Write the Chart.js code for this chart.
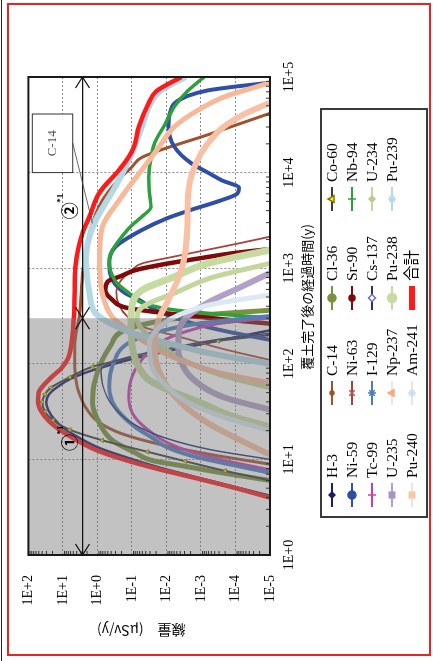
<!DOCTYPE html>
<html>
<head>
<meta charset="utf-8">
<script src="https://cdn.jsdelivr.net/npm/chart.js@4.4.1/dist/chart.umd.min.js"></script>
<style>
  html, body { margin: 0; padding: 0; background: #fff; overflow: hidden; width: 433px; height: 661px; }
  #edge { position: absolute; left: 1px; top: 0; width: 1px; height: 661px; background: #222; }
  #frame { position: absolute; left: 7px; top: 3px; width: 420px; height: 649px; border: 2px solid #e42526; }
  #wrap { position: absolute; left: 0; top: 0; width: 661px; height: 433px;
          transform-origin: 0 0; transform: translateY(661px) rotate(-90deg); }
</style>
</head>
<body>
<div id="edge"></div>
<div id="frame"></div>
<div id="wrap"><canvas id="doseChart" width="661" height="433"></canvas></div>
<script>
// each curve: [log10(years after cover), log10(dose uSv/y)]
const h3 = [[0.62,-5],[0.72,-3.9],[0.82,-2.8],[0.92,-1.75],[1.02,-0.85],[1.12,-0.05],[1.22,0.5],[1.32,0.95],[1.42,1.25],[1.52,1.43],[1.6,1.48],[1.68,1.4],[1.76,1.15],[1.84,0.8],[1.9,0.4],[1.97,-0.2],[2.05,-1.0],[2.13,-2.0],[2.22,-3.2],[2.3,-4.3],[2.35,-5]];
const c14 = [[0.95,-5],[1.05,-3.3],[1.15,-1.9],[1.27,-0.7],[1.4,0.0],[1.55,0.35],[1.75,0.58],[1.97,0.66],[2.2,0.66],[2.53,0.51],[2.95,0.43],[3.37,0.23],[3.71,-0.14],[3.9,-0.55],[4.06,-1.0],[4.16,-1.29],[4.39,-3.15],[4.62,-5]];
const cl36 = [[0.78,-5],[0.86,-3.6],[0.93,-2.5],[0.99,-1.57],[1.07,-1.09],[1.2,-0.43],[1.38,-0.06],[1.59,0.14],[1.8,0.09],[2.04,-0.14],[2.2,-0.4],[2.32,-0.63],[2.4,-1.2],[2.47,-2.2],[2.52,-3.4],[2.56,-5]];
const co60 = [[0.78,-5],[0.88,-3.7],[0.98,-2.55],[1.08,-1.45],[1.2,-0.14],[1.31,0.8],[1.41,1.29],[1.5,1.52],[1.6,1.6],[1.68,1.52],[1.75,1.35],[1.86,0.8],[1.97,0.14],[2.02,-0.43],[2.1,-1.5],[2.18,-2.6],[2.24,-3.5],[2.3,-5]];
const ni59 = [[2.25,-5],[2.35,-3.6],[2.45,-2.5],[2.55,-1.75],[2.67,-1.2],[2.74,-0.8],[2.88,-0.43],[3.05,-0.34],[3.22,-0.51],[3.4,-1.29],[3.52,-2.0],[3.61,-2.71],[3.7,-3.5],[3.78,-4.05],[3.84,-4.1],[3.92,-3.6],[4.0,-3.2],[4.1,-2.71],[4.27,-2.23],[4.48,-2.06],[4.62,-2.1],[4.73,-2.25],[4.8,-2.6],[4.86,-3.2],[4.9,-4.0],[4.94,-5]];
const ni63 = [[2.04,-5],[2.15,-3.7],[2.27,-2.5],[2.39,-1.29],[2.5,-0.85],[2.62,-0.62],[2.75,-0.55],[2.88,-0.7],[2.98,-1.0],[3.05,-1.29],[3.12,-2.2],[3.19,-3.15],[3.26,-4.1],[3.33,-5]];
const sr90 = [[2.42,-5],[2.47,-3.5],[2.52,-2.2],[2.56,-1.3],[2.59,-0.8],[2.67,-0.43],[2.77,-0.23],[2.86,-0.3],[2.92,-0.7],[2.98,-1.1],[3.04,-1.9],[3.1,-2.9],[3.16,-4.0],[3.2,-5]];
const nb94 = [[2.48,-5],[2.52,-3.5],[2.56,-2.3],[2.63,-1.36],[2.72,-0.99],[2.85,-0.55],[2.97,-0.38],[3.09,-0.34],[3.2,-0.45],[3.35,-0.75],[3.45,-1.0],[3.54,-1.29],[3.64,-1.55],[3.74,-1.52],[3.95,-1.49],[4.15,-1.55],[4.31,-1.66],[4.5,-1.95],[4.69,-2.23],[4.85,-2.6],[5.0,-3.09]];
const tc99 = [[0.89,-5],[0.98,-3.8],[1.08,-2.7],[1.18,-2.0],[1.28,-1.57],[1.44,-1.09],[1.65,-0.91],[1.86,-1.0],[2.05,-1.3],[2.22,-1.8],[2.33,-2.5],[2.42,-3.5],[2.48,-5]];
const i129 = [[0.86,-5],[0.95,-3.8],[1.04,-2.7],[1.13,-2.0],[1.23,-1.57],[1.34,-1.09],[1.55,-0.51],[1.76,-0.34],[1.97,-0.43],[2.22,-0.91],[2.33,-1.7],[2.42,-2.9],[2.5,-5]];
const cs137 = [[1.0,-5],[1.1,-3.3],[1.22,-2.0],[1.38,-1.0],[1.58,-0.4],[1.78,-0.15],[1.93,-0.1],[2.0,-0.3],[2.08,-1.0],[2.17,-2.2],[2.25,-3.4],[2.32,-5]];
const u234 = [[1.75,-5],[1.88,-3.6],[2.02,-2.6],[2.17,-1.9],[2.32,-1.4],[2.46,-1.15],[2.59,-1.29],[2.75,-2.3],[2.9,-3.3],[3.05,-5]];
const u235 = [[1.52,-5],[1.65,-3.66],[1.86,-2.71],[2.0,-2.45],[2.14,-2.34],[2.3,-2.35],[2.46,-2.51],[2.64,-3.2],[2.8,-4.14],[2.95,-5]];
const np237 = [[1.8,-5],[1.9,-3.6],[2.0,-2.7],[2.1,-2.0],[2.2,-1.5],[2.35,-0.9],[2.49,-0.43],[2.74,-0.14],[3.09,-0.06],[3.43,-0.14],[3.71,-0.63],[4.03,-1.29],[4.25,-1.75],[4.48,-2.23],[4.65,-2.9],[4.79,-3.66],[4.94,-5]];
const pu238 = [[1.34,-5],[1.45,-3.9],[1.59,-3.0],[1.72,-2.1],[1.83,-1.5],[2.0,-1.15],[2.2,-1.0],[2.45,-0.97],[2.6,-1.0],[2.77,-1.29],[2.91,-2.23],[3.05,-3.2],[3.19,-5]];
const pu239 = [[2.0,-5],[2.1,-3.4],[2.2,-2.2],[2.3,-1.2],[2.4,-0.5],[2.53,0.06],[2.74,0.23],[3.09,0.34],[3.43,0.14],[3.85,-0.51],[4.13,-0.91],[4.48,-1.29],[4.73,-1.55],[4.85,-1.8],[5.0,-2.55]];
const pu240 = [[1.05,-5],[1.2,-4.14],[1.38,-3.2],[1.59,-2.43],[1.86,-1.86],[2.14,-1.66],[2.46,-1.77],[2.67,-2.06],[2.9,-2.35],[3.09,-2.51],[3.4,-2.6],[3.79,-2.63],[4.0,-2.75],[4.2,-3.0],[4.35,-3.3],[4.48,-3.66],[4.62,-4.3],[4.73,-5]];
const am241 = [[1.3,-5],[1.45,-3.6],[1.6,-2.6],[1.8,-1.9],[2.0,-1.55],[2.2,-1.5],[2.35,-1.7],[2.5,-2.3],[2.62,-3.3],[2.72,-5]];
const total = [[0.6,-5],[0.7,-4.0],[0.8,-2.9],[0.9,-1.75],[1.0,-0.75],[1.1,0.05],[1.2,0.6],[1.3,1.05],[1.4,1.4],[1.5,1.62],[1.6,1.72],[1.7,1.7],[1.78,1.55],[1.87,1.3],[1.95,1.05],[2.05,0.86],[2.15,0.78],[2.3,0.72],[2.5,0.68],[2.8,0.66],[3.0,0.64],[3.2,0.56],[3.37,0.43],[3.55,0.22],[3.79,-0.06],[4.03,-0.63],[4.15,-0.88],[4.27,-1.06],[4.48,-1.2],[4.73,-1.49],[4.85,-1.7],[5.0,-2.43]];

const seriesNames = ['H-3', 'C-14', 'Cl-36', 'Co-60', 'Ni-59', 'Ni-63', 'Sr-90', 'Nb-94', 'Tc-99', 'I-129',
  'Cs-137', 'U-234', 'U-235', 'Np-237', 'Pu-238', 'Pu-239', 'Pu-240', 'Am-241', '合計'];
const seriesData = [h3, c14, cl36, co60, ni59, ni63, sr90, nb94, tc99, i129,
  cs137, u234, u235, np237, pu238, pu239, pu240, am241, total];

const xTickValues = [1, 10, 100, 1000, 10000, 100000];
const xTickLabels = ['1E+0', '1E+1', '1E+2', '1E+3', '1E+4', '1E+5'];
const yTickValues = [1e-5, 1e-4, 1e-3, 1e-2, 1e-1, 1, 10, 100];
const yTickLabels = ['1E-5', '1E-4', '1E-3', '1E-2', '1E-1', '1E+0', '1E+1', '1E+2'];

const xTitle = '覆土完了後の経過時間(y)';
const yTitle = '線量　(μSv/y)';
const managedUntil = 300;       // shaded period, years
const arrowDose = 2.7;          // level of the period arrows
const markOne = [15, 6.3];
const markTwo = [4000, 6.3];
const c14Box = { x0: 1e4, x1: 4.1e4, y0: 5.2, y1: 77 };
const c14Pointer = [[2.04e4, 5.2], [2950, 1.39]];

const serif = "'Liberation Serif', 'Noto Sans CJK JP', serif";
const cjk = "'Noto Sans CJK JP', 'Liberation Serif', sans-serif";

const styles = [
  { color: '#1c1c6a', width: 2.5, marker: 'rectRot', r: 3 },
  { color: '#a0522d', width: 3, marker: 'circle', r: 2 },
  { color: '#77933c', width: 5, marker: 'circle', r: 4 },
  { color: '#3a3a3a', width: 2, marker: 'triangle', fill: '#ffff00', edge: '#7a7a00', r: 4, onChart: true },
  { color: '#2f4fa5', width: 4, marker: 'circle', r: 4 },
  { color: '#a8413d', width: 1.8, marker: 'crossRot', edge: '#c0504d', r: 4 },
  { color: '#7f0a0a', width: 4.5, marker: 'circle', r: 3 },
  { color: '#2ca03c', width: 3.5, marker: 'cross', r: 4 },
  { color: '#c83cb4', width: 3, marker: 'line', rot: 90, r: 4 },
  { color: '#4a7ec4', width: 4, marker: 'star', r: 4 },
  { color: '#24327a', width: 1.5, marker: 'rectRot', fill: '#ffffff', edge: '#6f6fd0', r: 3.5 },
  { color: '#c3d69b', width: 5, marker: 'rectRot', fill: '#b8cc8c', r: 3 },
  { color: '#b1a0c7', width: 6, marker: 'rect', fill: '#a595c0', r: 4 },
  { color: '#f7b999', width: 5, legendLine: '#e6e6e6', marker: 'triangle', fill: '#f9a980', r: 4 },
  { color: '#c6dba2', width: 7, marker: 'circle', r: 4.5 },
  { color: '#b3d9e6', width: 6, marker: 'star', r: 4 },
  { color: '#f8c0a4', width: 6, legendLine: '#e6e6e6', marker: 'rect', fill: '#fbc6a6', r: 4 },
  { color: '#dce9f2', width: 5, legendLine: '#e6e6e6', marker: 'star', edge: '#c9dfee', r: 4 },
  { color: '#ff1a1a', width: 4.5, legendWidth: 6 }
];

const legendCols = [154, 256, 351, 450];
const legendRows = [332, 352, 372, 392, 412];

const datasets = seriesNames.map((name, i) => {
  const s = styles[i];
  return {
    label: name,
    data: seriesData[i].map(([lt, ld]) => ({ x: 10 ** lt, y: 10 ** ld })),
    showLine: true,
    borderColor: s.color,
    borderWidth: s.width,
    backgroundColor: s.fill || s.color,
    pointBorderColor: s.edge || s.color,
    pointStyle: s.marker || 'circle',
    pointRadius: s.onChart ? 2.5 : 0,
    pointBorderWidth: 1,
    cubicInterpolationMode: 'monotone',
    clip: 0,
    order: seriesNames.length - i
  };
});

const arrowHead = (ctx, tipX, y, dir) => {
  ctx.beginPath();
  ctx.moveTo(tipX - dir * 11, y - 7);
  ctx.lineTo(tipX, y);
  ctx.lineTo(tipX - dir * 11, y + 7);
  ctx.stroke();
};

const circledMark = (ctx, px, py, glyph) => {
  ctx.font = "bold 17px " + cjk;
  ctx.textAlign = 'center';
  ctx.textBaseline = 'middle';
  ctx.fillText(glyph, px, py);
  ctx.font = "bold 9px " + serif;
  ctx.textAlign = 'left';
  ctx.fillText('*1', px + 8, py - 9);
};

const decorPlugin = {
  id: 'decor',
  afterDatasetsDraw(chart) {
    const { ctx, chartArea: a, scales: { x, y } } = chart;
    ctx.save();

    // management period shading lies over the curves
    const bandRight = x.getPixelForValue(managedUntil);
    ctx.fillStyle = 'rgba(120,120,120,0.45)';
    ctx.fillRect(a.left, a.top, bandRight - a.left, a.bottom - a.top);

    // minor log ticks, inside the frame
    ctx.strokeStyle = '#333';
    ctx.lineWidth = 1;
    ctx.beginPath();
    for (let e = 0; e < 5; e++) {
      for (let k = 2; k < 10; k++) {
        const px = x.getPixelForValue(k * 10 ** e);
        ctx.moveTo(px, a.bottom);
        ctx.lineTo(px, a.bottom - 4);
      }
    }
    for (let e = -5; e < 2; e++) {
      for (let k = 2; k < 10; k++) {
        const py = y.getPixelForValue(k * 10 ** e);
        ctx.moveTo(a.left, py);
        ctx.lineTo(a.left + 4, py);
      }
    }
    ctx.stroke();

    ctx.strokeStyle = '#1a1a1a';
    ctx.lineWidth = 2;
    ctx.strokeRect(a.left, a.top, a.right - a.left, a.bottom - a.top);

    // period arrows
    const ay = y.getPixelForValue(arrowDose);
    ctx.strokeStyle = '#111';
    ctx.lineWidth = 1.2;
    ctx.beginPath();
    ctx.moveTo(a.left, ay);
    ctx.lineTo(a.right, ay);
    ctx.stroke();
    arrowHead(ctx, a.left, ay, -1);
    arrowHead(ctx, bandRight, ay, 1);
    arrowHead(ctx, bandRight, ay, -1);
    arrowHead(ctx, a.right, ay, 1);

    ctx.fillStyle = '#000';
    circledMark(ctx, x.getPixelForValue(markOne[0]), y.getPixelForValue(markOne[1]), '①');
    circledMark(ctx, x.getPixelForValue(markTwo[0]), y.getPixelForValue(markTwo[1]), '②');

    // C-14 callout
    const bx0 = x.getPixelForValue(c14Box.x0), bx1 = x.getPixelForValue(c14Box.x1);
    const by0 = y.getPixelForValue(c14Box.y1), by1 = y.getPixelForValue(c14Box.y0);
    ctx.fillStyle = '#fff';
    ctx.fillRect(bx0, by0, bx1 - bx0, by1 - by0);
    ctx.strokeStyle = '#333';
    ctx.lineWidth = 1;
    ctx.strokeRect(bx0, by0, bx1 - bx0, by1 - by0);
    ctx.fillStyle = '#555';
    ctx.font = "13px " + serif;
    ctx.textAlign = 'center';
    ctx.textBaseline = 'middle';
    ctx.fillText('C-14', (bx0 + bx1) / 2, (by0 + by1) / 2);
    ctx.strokeStyle = '#444';
    ctx.lineWidth = 0.8;
    ctx.beginPath();
    ctx.moveTo(x.getPixelForValue(c14Pointer[0][0]), y.getPixelForValue(c14Pointer[0][1]));
    ctx.lineTo(x.getPixelForValue(c14Pointer[1][0]), y.getPixelForValue(c14Pointer[1][1]));
    ctx.stroke();

    ctx.restore();
  },
  afterDraw(chart) {
    const { ctx, chartArea: a } = chart;
    const drawPoint = Chart.helpers && Chart.helpers.drawPoint;
    ctx.save();

    ctx.fillStyle = '#000';
    ctx.font = "13px " + cjk;
    ctx.textAlign = 'center';
    ctx.textBaseline = 'middle';
    ctx.fillText(xTitle, 364, 307);

    ctx.translate(31, (a.top + a.bottom) / 2 - 8);
    ctx.rotate(-Math.PI / 2);
    ctx.font = "14px " + cjk;
    ctx.fillText(yTitle, 0, 0);
    ctx.setTransform(1, 0, 0, 1, 0, 0);

    // legend grid
    ctx.strokeStyle = '#3a3a3a';
    ctx.lineWidth = 2;
    ctx.strokeRect(144, 321, 408, 106);
    ctx.font = "15.5px " + serif;
    ctx.textAlign = 'left';
    chart.data.datasets.forEach((ds, i) => {
      const s = styles[i];
      const lx = legendCols[i % 4];
      const ly = legendRows[Math.floor(i / 4)];
      ctx.strokeStyle = s.legendLine || s.color;
      ctx.lineWidth = s.legendWidth || 2;
      ctx.beginPath();
      ctx.moveTo(lx, ly);
      ctx.lineTo(lx + 24, ly);
      ctx.stroke();
      if (s.marker && drawPoint) {
        ctx.fillStyle = s.fill || s.color;
        ctx.strokeStyle = s.edge || s.fill || s.color;
        ctx.lineWidth = 1.5;
        drawPoint(ctx, { pointStyle: s.marker, radius: s.r, rotation: s.rot || 0, borderWidth: 1.5 }, lx + 12, ly);
      }
      ctx.fillStyle = '#000';
      ctx.textBaseline = 'middle';
      ctx.fillText(ds.label, lx + 29, ly + 1);
    });
    ctx.restore();
  }
};

new Chart(document.getElementById('doseChart'), {
  type: 'scatter',
  data: { datasets },
  options: {
    responsive: false,
    animation: false,
    devicePixelRatio: 1,
    layout: { padding: { left: 0, top: 25, right: 77, bottom: 123 } },
    plugins: { legend: { display: false }, tooltip: { enabled: false } },
    scales: {
      x: {
        type: 'logarithmic',
        min: 1,
        max: 1e5,
        afterBuildTicks: (s) => { s.ticks = xTickValues.map((v) => ({ value: v })); },
        afterFit: (s) => { s.height = 40; },
        grid: { color: '#8a8a8a', lineWidth: 1, drawTicks: false },
        border: { display: false, dash: [2, 2] },
        ticks: {
          autoSkip: false, maxRotation: 0, padding: 11, color: '#000',
          font: { family: serif, size: 14 },
          callback: (v, i) => xTickLabels[i]
        }
      },
      y: {
        type: 'logarithmic',
        min: 1e-5,
        max: 100,
        afterBuildTicks: (s) => { s.ticks = yTickValues.map((v) => ({ value: v })); },
        afterFit: (s) => { s.width = 106; },
        grid: { color: '#8a8a8a', lineWidth: 1, drawTicks: false },
        border: { display: false, dash: [2, 2] },
        ticks: {
          autoSkip: false, padding: 20, color: '#000',
          font: { family: serif, size: 14 },
          callback: (v, i) => yTickLabels[i]
        }
      }
    }
  },
  plugins: [decorPlugin]
});
</script>
</body>
</html>
